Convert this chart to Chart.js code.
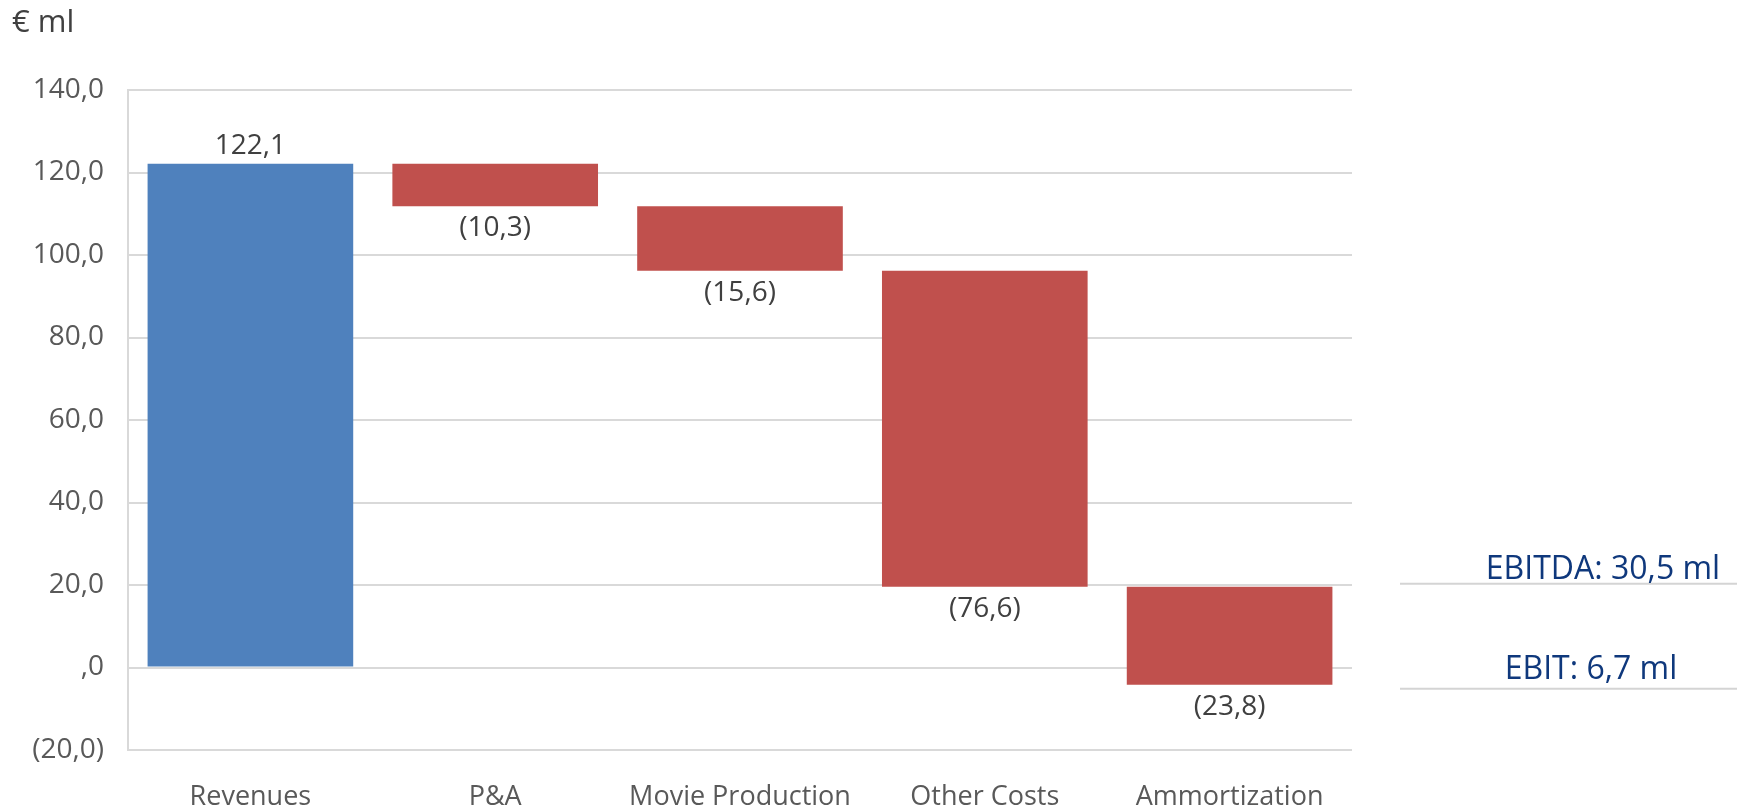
<!DOCTYPE html>
<html lang="en">
<head>
    <meta charset="UTF-8">
    <title>Waterfall</title>
    <script src="https://cdn.jsdelivr.net/npm/chart.js"></script>
    <style>
        body { margin: 0; background: #fff; }
        #wrap { width: 1741px; height: 809px; position: relative; }
    </style>
</head>
<body>
    <div id="wrap"><canvas id="waterfall"></canvas></div>

    <script>
        // chart data
        const categories = ['Revenues', 'P&A', 'Movie Production', 'Other Costs', 'Ammortization'];
        const changes = [122.1, -10.3, -15.6, -76.6, -23.8];
        const yTicks = [-20, 0, 20, 40, 60, 80, 100, 120, 140];
        const unitLabel = '€ ml';
        const notes = ['EBITDA: 30,5 ml', 'EBIT: 6,7 ml'];

        // floating bars: [start, end] from the running total
        const ranges = [];
        let total = 0;
        changes.forEach(c => {
            ranges.push([total, total + c]);
            total += c;
        });

        function fmt(v) {
            const s = Math.abs(v).toFixed(1).replace('.', ',');
            if (v === 0) return ',0';
            return v < 0 ? '(' + s + ')' : s;
        }

        const FONT = '"Open Sans", sans-serif';

        // labels on bars, unit text and the EBITDA / EBIT notes
        const extras = {
            id: 'extras',
            afterDatasetsDraw(chart) {
                const ctx = chart.ctx;
                const y = chart.scales.y;
                const bars = chart.getDatasetMeta(0).data;
                ctx.save();
                ctx.font = '28px ' + FONT;
                ctx.fillStyle = '#404040';
                ctx.textAlign = 'center';
                ctx.textBaseline = 'middle';
                bars.forEach((bar, i) => {
                    const end = ranges[i][1];
                    if (changes[i] >= 0) {
                        ctx.fillText(fmt(changes[i]), bar.x, y.getPixelForValue(end) - 18);
                    } else {
                        ctx.fillText(fmt(changes[i]), bar.x, y.getPixelForValue(end) + 22);
                    }
                });

                ctx.textAlign = 'left';
                ctx.font = '31px ' + FONT;
                ctx.fillText(unitLabel, 12, 23);

                // note lines sit at the level of the last two bar ends
                const lineY = [y.getPixelForValue(ranges[3][1]) - 3, y.getPixelForValue(ranges[4][1]) + 4];
                ctx.strokeStyle = '#d4d4d4';
                ctx.lineWidth = 2;
                lineY.forEach(ly => {
                    ctx.beginPath();
                    ctx.moveTo(1400, ly);
                    ctx.lineTo(1737, ly);
                    ctx.stroke();
                });
                ctx.font = '32px ' + FONT;
                ctx.fillStyle = '#0f387c';
                ctx.textAlign = 'center';
                ctx.textBaseline = 'alphabetic';
                ctx.fillText(notes[0], 1603, lineY[0] - 5);
                ctx.fillText(notes[1], 1591, lineY[1] - 10);
                ctx.restore();
            }
        };

        new Chart(document.getElementById('waterfall'), {
            type: 'bar',
            data: {
                labels: categories,
                datasets: [{
                    data: ranges,
                    backgroundColor: changes.map((c, i) => i === 0 ? '#4f81bd' : '#c0504d'),
                    borderWidth: 0,
                    barPercentage: 0.84,
                    categoryPercentage: 1.0
                }]
            },
            options: {
                responsive: true,
                maintainAspectRatio: false,
                animation: false,
                layout: { padding: { top: 90, right: 389, left: 0, bottom: 0 } },
                plugins: {
                    legend: { display: false },
                    tooltip: { enabled: false }
                },
                scales: {
                    x: {
                        grid: { display: false },
                        border: { display: false },
                        ticks: {
                            color: '#595959',
                            font: { family: FONT, size: 27 },
                            padding: 23,
                            maxRotation: 0,
                            autoSkip: false
                        },
                        afterFit(scale) { scale.height = 59; }
                    },
                    y: {
                        min: yTicks[0],
                        max: yTicks[yTicks.length - 1],
                        afterBuildTicks(scale) {
                            scale.ticks = yTicks.map(v => ({ value: v }));
                        },
                        grid: {
                            color: '#d9d9d9',
                            lineWidth: 2,
                            drawTicks: false
                        },
                        border: { display: true, color: '#d9d9d9', width: 2 },
                        ticks: {
                            color: '#595959',
                            font: { family: FONT, size: 28 },
                            padding: 24,
                            callback: v => fmt(v)
                        },
                        afterFit(scale) { scale.width = 128; }
                    }
                }
            },
            plugins: [extras]
        });
    </script>
</body>
</html>
